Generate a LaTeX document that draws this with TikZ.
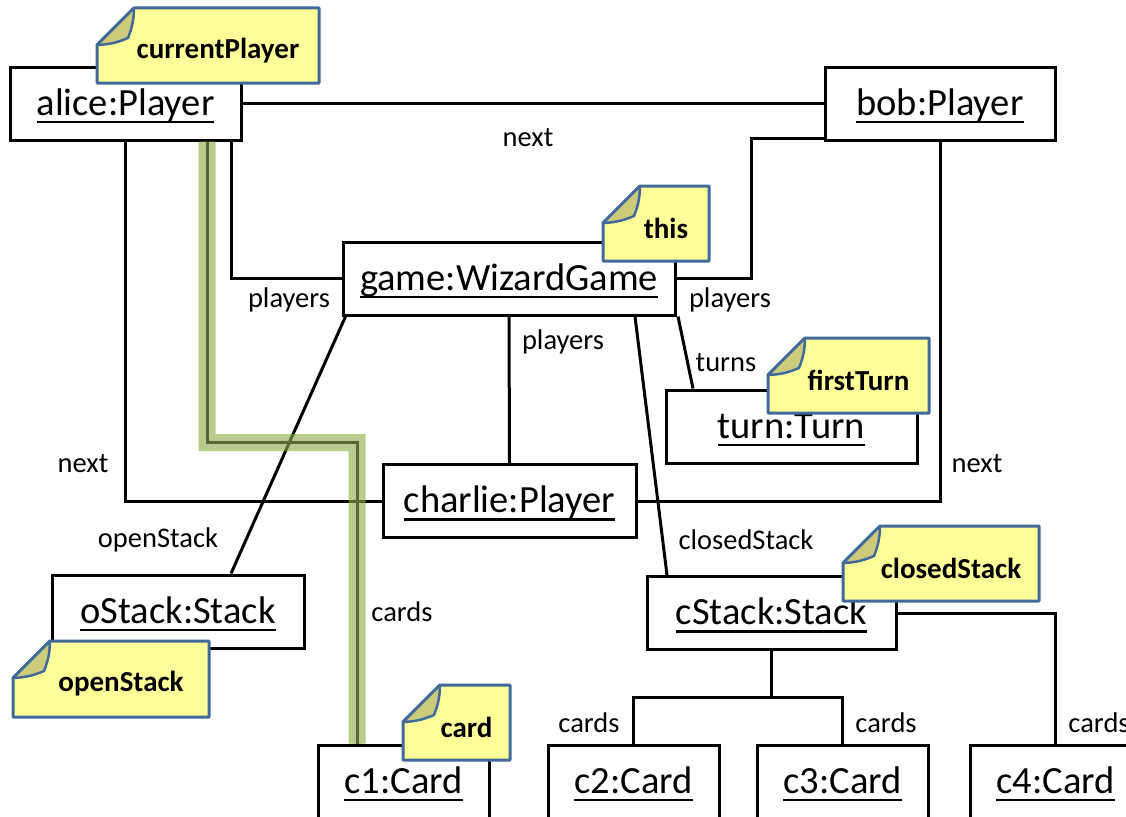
\documentclass[tikz,border=0pt]{standalone}
\usepackage{fontspec}
\setmainfont{Carlito}
\usetikzlibrary{positioning}

\definecolor{notefill}{HTML}{FFFF99}
\definecolor{noteline}{HTML}{41699A}
\definecolor{notefold}{HTML}{CCCB7C}
\definecolor{hledge}{HTML}{86B33A}
\definecolor{hlfill}{HTML}{8EAB4F}

\newsavebox{\objbox}
\newcommand{\objname}[1]{\sbox{\objbox}{#1}\rlap{\vrule width\wd\objbox height -.15em depth .22em}\usebox{\objbox}}

% note with folded corner: name, left, top, right, bottom, text
\newcommand{\stickynote}[6]{%
\draw[note] (#2+37,#3) -- (#4,#3) -- (#4,#5) -- (#2,#5) -- (#2,#3+37) -- cycle;
\draw[fold] (#2,#3+37) -- (#2+37,#3) to[bend left=10] (#2+31,#3+30) to[bend left=10] (#2,#3+37) -- cycle;
\node[notetext] (#1) at ({(#2+#4)/2+10},{(#3+#5)/2+5}) {#6};}

\begin{document}
\begin{tikzpicture}[x=1pt,y=-1pt,line width=3pt,
  role/.style={font=\fontsize{28.5}{34}\selectfont},
  note/.style={fill=notefill,draw=noteline,line width=3pt,line join=round},
  fold/.style={fill=notefold,draw=noteline,line width=2.5pt,line join=round},
  notetext/.style={font=\fontsize{29}{35}\selectfont\bfseries}]
\useasboundingbox (0,0) rectangle (1126,816);
\clip (0,0) rectangle (1126,816);
\begin{scope}[minimum height=73pt,inner sep=0pt]
\tikzstyle{every node}=[draw,fill=white,text height=31pt,text depth=8pt,font=\fontsize{38.5}{46}\selectfont] %%
\node[minimum width=231pt] (alice) at (125.5,103.5) {\objname{alice:Player}}; %%
\node[minimum width=230pt] (bob) at (940,103.5) {\objname{bob:Player}}; %%
\node[minimum width=332pt] (game) at (509,278.5) {\objname{game:WizardGame}}; %%
\node[minimum width=251pt] (turn) at (791.5,426.5) {\objname{turn:Turn}}; %%
\node[minimum width=253pt] (charlie) at (509.5,501) {\objname{charlie:Player}}; %%
\node[minimum width=252pt] (oStack) at (178,611.5) {\objname{oStack:Stack}}; %%
\node[minimum width=249pt] (cStack) at (771.5,613) {\objname{cStack:Stack}}; %%
\node[minimum width=171pt] (c1) at (403.5,781.5) {\objname{c1:Card}}; %%
\node[minimum width=171pt] (c2) at (633.5,781.5) {\objname{c2:Card}}; %%
\node[minimum width=171pt] (c3) at (842.5,781.5) {\objname{c3:Card}}; %%
\node[minimum width=171pt] (c4) at (1055.5,781.5) {\objname{c4:Card}};
\end{scope}
\coordinate (fork) at (771.5,697);
%\draw[step=10pt,color=gray] (0,0) grid (1126,816);%%
\draw (alice.east) -- (bob.west); %%
\draw ([xshift=105.5pt]alice.south) |- (game.west); %%
\draw (alice.south) |- (charlie.west); %%
\draw ([yshift=-34.5pt]bob.west) -| ([xshift=75pt]game.east) -- (game.east); %%
\draw (bob.south) |- (charlie.east); %%
\draw (game.south) -- (charlie.north); %%
\draw ([xshift=169pt]game.south) -- ([xshift=-98.5pt]turn.north); %%
\draw ([xshift=4pt]game.south west) -- ([xshift=53pt]oStack.north); %%
\draw ([xshift=126pt]game.south) -- ([xshift=-104.5pt]cStack.north); %%
\draw (cStack.south) -- (fork); %%
\draw (c2.north) |- (fork) -| (c3.north); %%
\draw (cStack.east) -| (c4.north); %%
\draw ([xshift=81.5pt]alice.south) -- ++(0,301) -| ([xshift=-46.5pt]c1.north);
% highlighted link
\begin{scope}[transparency group,opacity=.62]
\draw[hledge,line width=17pt] ([xshift=81.5pt]alice.south) -- ++(0,301) -| ([xshift=-46.5pt]c1.north);
\draw[hlfill,line width=12pt] ([xshift=81.5pt]alice.south) -- ++(0,301) -| ([xshift=-46.5pt]c1.north);
\end{scope}
\begin{scope}
\tikzstyle{every node}=[role] %%
\node (nextab) at (528,138) {next}; %%
\node (nextac) at (83,464) {next}; %%
\node (nextbc) at (977,464) {next}; %%
\node (playa) at (289,300) {players}; %%
\node (playb) at (730,300) {players}; %%
\node (playc) at (563,342) {players}; %%
\node (turns) at (726,363) {turns}; %%
\node (opens) at (158,540) {openStack}; %%
\node (closeds) at (746,540) {closedStack}; %%
\node (cards1) at (402,612) {cards}; %%
\node (cards2) at (589,723) {cards}; %%
\node (cards3) at (886,723) {cards}; %%
\node (cards4) at (1099,723) {cards};
\end{scope}
\stickynote{ncur}{97}{8}{319}{83}{currentPlayer}
\stickynote{nthis}{603}{186}{709}{261}{this}
\stickynote{nturn}{768}{338}{929}{413}{firstTurn}
\stickynote{nclosed}{843}{526}{1039}{601}{closedStack}
\stickynote{nopen}{13}{641}{209}{717}{openStack}
\stickynote{ncard}{403}{685}{510}{760}{card}
\end{tikzpicture}
\end{document}
